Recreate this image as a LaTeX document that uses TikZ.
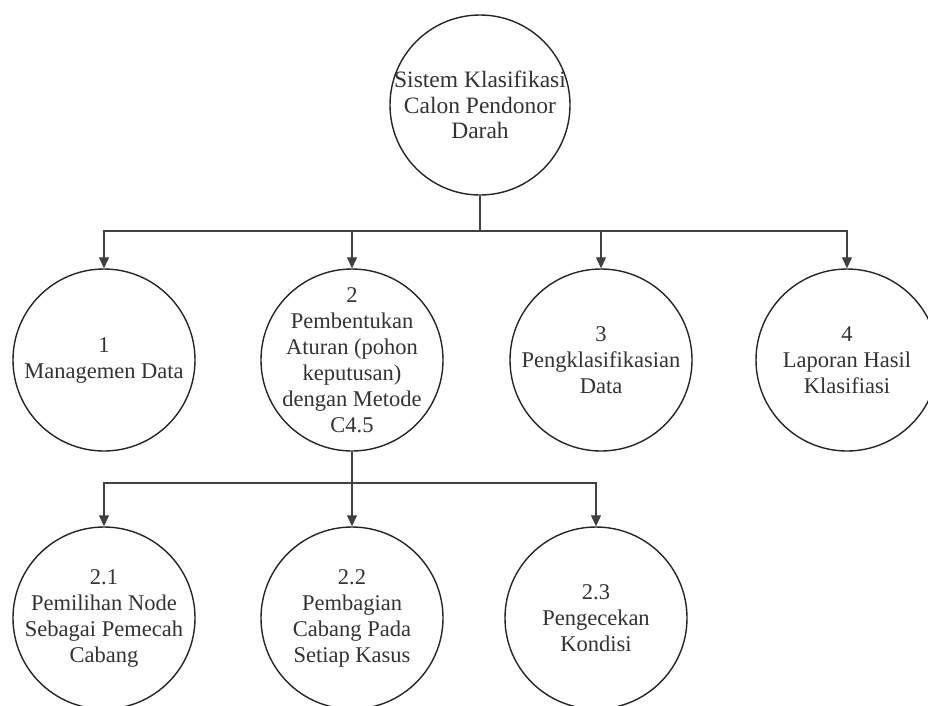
\documentclass[tikz,border=0pt]{standalone}
\usepackage{fontspec}
\setmainfont{Liberation Serif}
\usetikzlibrary{arrows.meta}
\begin{document}
\begin{tikzpicture}[x=1pt,y=-1pt,
  proc/.style={circle, draw=black!85, line width=1.4pt, minimum size=182pt, inner sep=0pt},
  txt/.style={align=center, inner sep=0pt, text=black!80, font=\fontsize{22.5}{26}\selectfont},
  link/.style={draw=black!75, line width=1.1pt},
  conn/.style={link, -{Triangle[length=11pt,width=10pt]}}]
\useasboundingbox (0,0) rectangle (928,705);
\fill[white] (0,0) rectangle (928,705);
% top
\node[proc, minimum size=180pt] (top) at (480,105) {};
\node[txt, font=\fontsize{23.5}{25.5}\selectfont] (ttop) at (top.center) {Sistem Klasifikasi\\Calon Pendonor\\Darah};
% level 1
\node[proc] (c1) at (104,360) {};
\node[proc] (c2) at (352,360) {};
\node[proc] (c3) at (601,360) {};
\node[proc] (c4) at (847,360) {};
\node[txt] (t1) at (c1.center) {1\\Managemen Data};
\node[txt] (t2) at (c2.center) {2\\Pembentukan\\Aturan (pohon\\keputusan)\\dengan Metode\\C4.5};
\node[txt] (t3) at (c3.center) {3\\Pengklasifikasian\\Data};
\node[txt] (t4) at (c4.center) {4\\Laporan Hasil\\Klasifiasi};
% level 2
\node[proc] (d1) at (104,618) {};
\node[proc] (d2) at (352,618) {};
\node[proc] (d3) at (596,618) {};
\node[txt] (u1) at (d1.center) {2.1\\Pemilihan Node\\Sebagai Pemecah\\Cabang};
\node[txt] (u2) at (d2.center) {2.2\\Pembagian\\Cabang Pada\\Setiap Kasus};
\node[txt] (u3) at (d3.center) {2.3\\Pengecekan\\Kondisi};
% connectors
\coordinate (j0) at (top.south |- 0,231);
\coordinate (j1) at (c2.south |- 0,483);
\draw[link] (top.south) -- (j0);
\draw[conn] (j0) -| (c1.north);
\draw[conn] (j0) -| (c2.north);
\draw[conn] (j0) -| (c3.north);
\draw[conn] (j0) -| (c4.north);
\draw[link] (c2.south) -- (j1);
\draw[conn] (j1) -| (d1.north);
\draw[conn] (j1) -- (d2.north);
\draw[conn] (j1) -| (d3.north);
\end{tikzpicture}
\end{document}
